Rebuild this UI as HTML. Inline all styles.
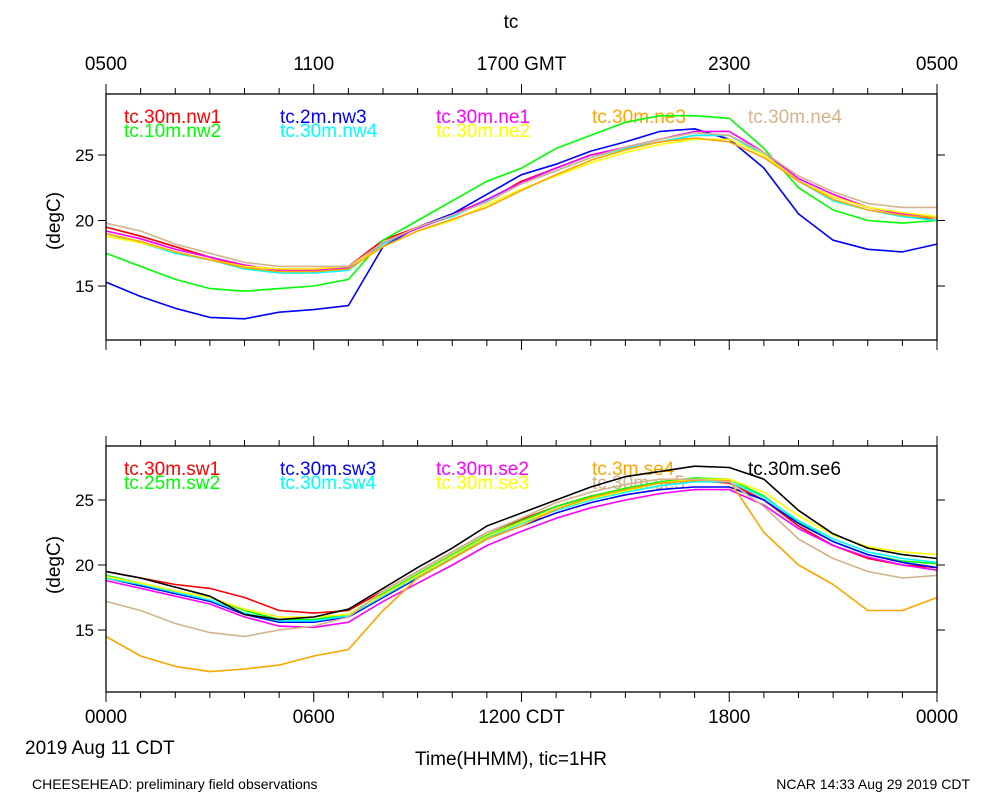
<!DOCTYPE html>
<html><head><meta charset="utf-8"><style>
body{margin:0;background:#fff}
svg{display:block;font-family:"Liberation Sans",sans-serif}
</style></head><body>
<svg id="chart" width="1000" height="800" viewBox="0 0 1000 800">
<text x="511" y="28" font-size="19" text-anchor="middle">tc</text>
<text x="53" y="228" font-size="19" text-anchor="middle" transform="rotate(-90 53 221)">(degC)</text>
<text x="53" y="572" font-size="19" text-anchor="middle" transform="rotate(-90 53 565)">(degC)</text>
<text x="511" y="765" font-size="19" text-anchor="middle">Time(HHMM), tic=1HR</text>
<text x="25" y="754" font-size="19">2019 Aug 11 CDT</text>
<text x="32" y="789" font-size="14">CHEESEHEAD: preliminary field observations</text>
<text x="970" y="789" font-size="14" text-anchor="end">NCAR 14:33 Aug 29 2019 CDT</text>
</svg>
<script>
const hours=[0,1,2,3,4,5,6,7,8,9,10,11,12,13,14,15,16,17,18,19,20,21,22,23,24];
const topTicks=["0500","1100","1700 GMT","2300","0500"];
const botTicks=["0000","0600","1200 CDT","1800","0000"];
const yTicks=[15,20,25];
const topNames=["tc.30m.nw1","tc.10m.nw2","tc.2m.nw3","tc.30m.nw4","tc.30m.ne1","tc.30m.ne2","tc.30m.ne3","tc.30m.ne4"];
const topColors=["#ff0000","#00ff00","#0000ff","#00ffff","#ff00ff","#ffff00","#ffa500","#d2b48c"];
const nw1=[19.5,18.8,18,17.2,16.5,16.3,16.3,16.5,18.5,19.5,20.5,21.5,23,24,25,25.5,26,26.5,26.5,25,23,21.8,21,20.5,20];
const nw2=[17.5,16.5,15.5,14.8,14.6,14.8,15,15.5,18.5,20,21.5,23,24,25.5,26.5,27.5,28,28,27.8,25.5,22.5,20.8,20,19.8,20];
const nw3=[15.3,14.2,13.3,12.6,12.5,13,13.2,13.5,18,19.5,20.5,22,23.5,24.3,25.3,26,26.8,27,26.2,24,20.5,18.5,17.8,17.6,18.2];
const nw4=[19,18.3,17.5,17,16.3,16,16,16.2,18.2,19.5,20.3,21.5,22.8,23.8,24.8,25.5,26,26.5,26.5,25,23,21.5,20.8,20.3,20];
const ne1=[19.2,18.6,17.8,17.2,16.6,16.2,16.2,16.4,18.3,19.4,20.4,21.6,22.9,24,25,25.6,26.2,26.8,26.8,25.2,23.2,22,21,20.5,20.2];
const ne2=[18.8,18.3,17.6,17,16.5,16.3,16.3,16.5,18,19.2,20,21.2,22.4,23.4,24.4,25.2,25.8,26.2,26.2,25,23,21.8,21,20.6,20.3];
const ne3=[19,18.4,17.6,17,16.4,16.1,16.1,16.3,18,19.2,20.1,21,22.3,23.5,24.6,25.4,26,26.3,26,24.8,23,21.6,20.8,20.4,20.2];
const ne4=[19.8,19.2,18.2,17.5,16.8,16.5,16.5,16.5,18.3,19.5,20.4,21.4,22.8,23.8,24.8,25.6,26.2,26.7,26.5,25.2,23.4,22.2,21.3,21,21];
const topSeries=[nw1,nw2,nw3,nw4,ne1,ne2,ne3,ne4];
const botNames=["tc.30m.sw1","tc.25m.sw2","tc.30m.sw3","tc.30m.sw4","tc.30m.se2","tc.30m.se3","tc.3m.se4","tc.30m.se5","tc.30m.se6"];
const botColors=["#ff0000","#00ff00","#0000ff","#00ffff","#ff00ff","#ffff00","#ffa500","#d2b48c","#000000"];
const sw1=[19.5,19,18.5,18.2,17.5,16.5,16.3,16.5,18,19.5,21,22.5,23.5,24.5,25.3,25.8,26.3,26.5,26.3,25,23,21.5,20.5,20,19.8];
const sw2=[19.2,18.6,18,17.5,16.5,15.8,15.8,16.2,17.8,19.3,20.8,22.3,23.4,24.5,25.3,25.9,26.4,26.7,26.6,25.3,23.3,21.8,20.8,20.3,20.1];
const sw3=[19,18.4,17.8,17.2,16.2,15.6,15.6,16,17.5,19,20.5,22,23,24,24.8,25.4,25.8,26,26,25,23.2,21.8,20.8,20.2,19.8];
const sw4=[19,18.5,17.9,17.3,16.3,15.7,15.7,16.1,17.6,19.1,20.6,22.1,23.2,24.2,25,25.6,26.1,26.4,26.4,25.2,23.4,22,21,20.5,20.2];
const se2=[18.8,18.2,17.6,17,16,15.3,15.2,15.6,17.2,18.6,20,21.5,22.6,23.6,24.4,25,25.5,25.8,25.8,24.6,22.8,21.5,20.6,20,19.6];
const se3=[19.1,18.6,18,17.5,16.6,16,16,16.2,17.7,19.2,20.7,22.2,23.3,24.3,25.1,25.7,26.3,26.6,26.6,25.6,23.8,22.3,21.4,21,20.8];
const se4=[14.5,13,12.2,11.8,12,12.3,13,13.5,16.5,19,20.5,22,23,24.3,25.2,25.8,26.3,26.5,26.5,22.5,20,18.5,16.5,16.5,17.5];
const se5=[17.2,16.5,15.5,14.8,14.5,15,15.3,16,18,19.5,21,22.5,23.6,24.8,25.6,26.2,26.6,26.6,26.4,24.5,22,20.5,19.5,19,19.2];
const se6=[19.5,19,18.3,17.6,16.2,15.8,16,16.6,18.2,19.8,21.3,23,24,25,26,26.8,27.2,27.6,27.5,26.6,24.2,22.4,21.3,20.8,20.5];
const botSeries=[sw1,sw2,sw3,sw4,se2,se3,se4,se5,se6];

const NS="http://www.w3.org/2000/svg";
const svg=document.getElementById('chart');
const X0=106,X1=937;
function xs(h){return X0+(X1-X0)*h/24;}
function mk(tag,attrs){const e=document.createElementNS(NS,tag);for(const k in attrs)e.setAttribute(k,attrs[k]);svg.appendChild(e);return e;}

function panel(y0,y1,y25,y15,names,colors,series,tickLabels,labelsTop,prefix){
  const ys=v=>y15+(v-15)*(y25-y15)/10;
  const lx=[124,280,436,592,748];
  names.forEach((n,i)=>{
    let col=Math.floor(i/2),row=i%2;
    if(names.length===8&&i===7){col=4;row=0;}
    if(names.length===9&&i===8){col=4;row=0;}
    const t=mk('text',{x:lx[col],y:(row?y0+43:y0+29),'font-size':19,fill:colors[i]});
    t.textContent=n;
    
    
  });
  series.forEach((s,i)=>{
    const p=mk('polyline',{points:s.map((v,j)=>xs(hours[j]).toFixed(1)+','+ys(v).toFixed(1)).join(' '),fill:'none',stroke:colors[i],'stroke-width':1.6,'stroke-linejoin':'round'});
    
    
  });
  const box=mk('rect',{x:X0,y:y0,width:X1-X0,height:y1-y0,fill:'none',stroke:'#000','stroke-width':1.3});
  
  
  for(let h=0;h<=24;h++){
    const len=(h%6===0)?10:6;
    mk('line',{x1:xs(h),x2:xs(h),y1:y1,y2:y1+len,stroke:'#000'});
    mk('line',{x1:xs(h),x2:xs(h),y1:y0,y2:y0-len,stroke:'#000'});
  }
  yTicks.forEach(v=>{
    const y=ys(v);
    mk('line',{x1:X0-8,x2:X0,y1:y,y2:y,stroke:'#000'});
    mk('line',{x1:X1,x2:X1+8,y1:y,y2:y,stroke:'#000'});
    const t=mk('text',{x:X0-12,y:y+6,'font-size':17,'text-anchor':'end'});
    t.textContent=v;
    
    
  });
  tickLabels.forEach((l,i)=>{
    const t=mk('text',{x:xs(i*6),y:labelsTop?70:723,'font-size':19,'text-anchor':'middle'});
    t.textContent=l;
    
    
  });
}
panel(94,340,155,286,topNames,topColors,topSeries,topTicks,true,'top');
panel(446,692,500,630,botNames,botColors,botSeries,botTicks,false,'bottom');
</script>
</body></html>
